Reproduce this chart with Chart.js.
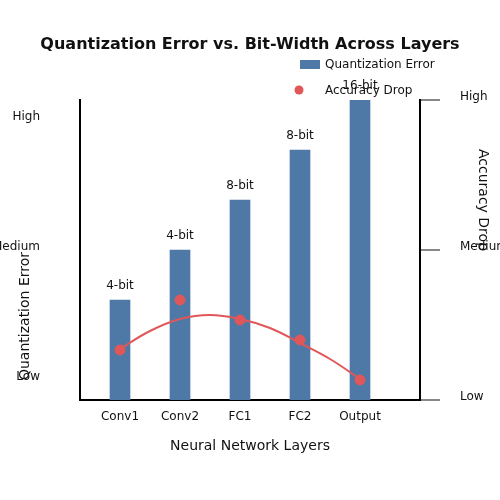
<!DOCTYPE html>
<html>
<head>
<meta charset="utf-8">
<script src="https://cdn.jsdelivr.net/npm/chart.js@4"></script>
<style>
  html, body { margin: 0; padding: 0; background: #fff; }
  #wrap { width: 500px; height: 500px; }
</style>
</head>
<body>
<div id="wrap"><canvas id="chart" width="500" height="500"></canvas></div>
<script>
// Data
// ----------------------------------------------
const layers        = ['Conv1', 'Conv2', 'FC1', 'FC2', 'Output'];
const bitWidths     = ['4-bit', '4-bit', '8-bit', '8-bit', '16-bit'];
const quantError    = [2, 3, 4, 5, 6];
const accuracyDrop  = [0.5, 1.0, 0.8, 0.6, 0.2];
// fitted trend, read at half steps
const trendX        = [0, 0.5, 1, 1.5, 2, 2.5, 3, 3.5, 4];
const trendY        = [0.51, 0.69, 0.81, 0.85, 0.81, 0.72, 0.57, 0.41, 0.21];
const leftTicks     = [0.5, 3.1, 5.7];
const rightTicks    = [0, 1.5, 3];
const levelLabels   = ['Low', 'Medium', 'High'];

const blue = '#4e79a7';
const red  = '#e15759';
const ink  = '#111';
const FONT = 'DejaVu Sans';

// Titles, legend and bar labels
// ----------------------------------------------
const decorations = {
   id: 'decorations',
   afterDatasetsDraw(chart) {
      const ctx = chart.ctx;
      ctx.save();
      ctx.fillStyle = ink;
      ctx.textBaseline = 'middle';

      // bar labels
      ctx.font = `12px "${FONT}"`;
      ctx.textAlign = 'center';
      chart.getDatasetMeta(0).data.forEach((bar, i) => {
         ctx.fillText(bitWidths[i], bar.x, bar.y - 14);
      });

      // title
      ctx.font = `bold 16px "${FONT}"`;
      ctx.fillText('Quantization Error vs. Bit-Width Across Layers', 250, 45);

      // axis titles
      ctx.font = `14px "${FONT}"`;
      ctx.fillText('Neural Network Layers', 250, 446);

      ctx.save();
      ctx.translate(25, 316);
      ctx.rotate(-Math.PI / 2);
      ctx.fillText('Quantization Error', 0, 0);
      ctx.restore();

      ctx.save();
      ctx.translate(483, 200);
      ctx.rotate(Math.PI / 2);
      ctx.fillText('Accuracy Drop', 0, 0);
      ctx.restore();

      // legend
      ctx.fillStyle = blue;
      ctx.fillRect(300, 60, 20, 9);
      ctx.fillStyle = red;
      ctx.beginPath();
      ctx.arc(299, 90, 4.5, 0, Math.PI * 2);
      ctx.fill();
      ctx.fillStyle = ink;
      ctx.font = `12px "${FONT}"`;
      ctx.textAlign = 'left';
      ctx.fillText('Quantization Error', 325, 65);
      ctx.fillText('Accuracy Drop', 325, 91);

      ctx.restore();
   }
};

new Chart(document.getElementById('chart'), {
   type: 'bar',
   data: {
      datasets: [
         {
            label: 'Quantization Error',
            data: quantError.map((v, i) => ({ x: i, y: v })),
            backgroundColor: blue,
            barThickness: 20,
            yAxisID: 'y',
            order: 3
         },
         {
            type: 'line',
            label: 'Trend',
            data: trendX.map((x, i) => ({ x: x, y: trendY[i] })),
            borderColor: red,
            borderWidth: 2,
            pointRadius: 0,
            tension: 0.4,
            fill: false,
            yAxisID: 'y1',
            order: 2
         },
         {
            type: 'scatter',
            label: 'Accuracy Drop',
            data: accuracyDrop.map((v, i) => ({ x: i, y: v })),
            backgroundColor: red,
            borderColor: red,
            pointRadius: 5,
            yAxisID: 'y1',
            order: 1
         }
      ]
   },
   options: {
      responsive: false,
      animation: false,
      layout: { padding: { top: 100, left: 0, right: 0, bottom: 0 } },
      plugins: {
         legend: { display: false },
         title: { display: false },
         tooltip: { enabled: false }
      },
      scales: {
         x: {
            type: 'linear',
            min: -2 / 3,
            max: 5,
            offset: false,
            grid: { display: false, drawTicks: false },
            border: { color: '#000', width: 2 },
            afterBuildTicks: s => { s.ticks = layers.map((c, i) => ({ value: i })); },
            afterFit: s => { s.height = 100; },
            ticks: {
               font: { family: FONT, size: 12 },
               color: ink,
               padding: 10,
               maxRotation: 0,
               autoSkip: false,
               callback: v => layers[v]
            }
         },
         y: {
            position: 'left',
            min: 0,
            max: 6,
            grid: { display: false, drawTicks: false },
            border: { color: '#000', width: 2 },
            afterBuildTicks: s => { s.ticks = leftTicks.map(v => ({ value: v })); },
            afterFit: s => { s.width = 80; },
            ticks: {
               font: { family: FONT, size: 12 },
               color: ink,
               padding: 40,
               labelOffset: 2,
               autoSkip: false,
               callback: (v, i) => levelLabels[i]
            }
         },
         y1: {
            position: 'right',
            min: 0,
            max: 3,
            grid: {
               display: true,
               drawOnChartArea: false,
               drawTicks: true,
               tickLength: 20,
               color: '#888',
               lineWidth: 2
            },
            border: { color: '#000', width: 2 },
            afterBuildTicks: s => { s.ticks = rightTicks.map(v => ({ value: v })); },
            afterFit: s => { s.width = 80; },
            ticks: {
               font: { family: FONT, size: 12 },
               color: ink,
               padding: 20,
               labelOffset: -3,
               autoSkip: false,
               callback: (v, i) => levelLabels[i]
            }
         }
      }
   },
   plugins: [decorations]
});
</script>
</body>
</html>
